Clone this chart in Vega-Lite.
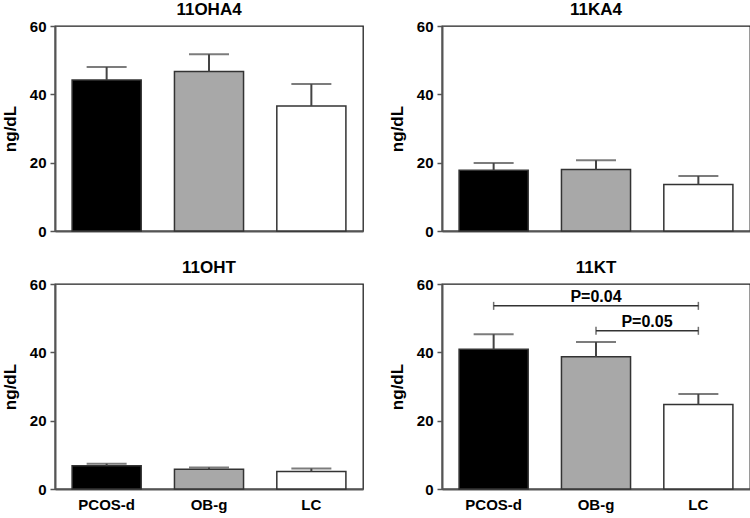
{
  "$schema": "https://vega.github.io/schema/vega-lite/v6.json",
  "padding": {"left": 0, "top": 0, "right": 0, "bottom": 0},
  "background": "white",
  "datasets": {
    "bars": [
      {"panel": "11OHA4", "group": "PCOS-d", "mean": 44.2, "hi": 48.0},
      {"panel": "11OHA4", "group": "OB-g", "mean": 46.7, "hi": 51.7},
      {"panel": "11OHA4", "group": "LC", "mean": 36.6, "hi": 43.0},
      {"panel": "11KA4", "group": "PCOS-d", "mean": 17.8, "hi": 19.9},
      {"panel": "11KA4", "group": "OB-g", "mean": 18.0, "hi": 20.7},
      {"panel": "11KA4", "group": "LC", "mean": 13.6, "hi": 16.1},
      {"panel": "11OHT", "group": "PCOS-d", "mean": 6.8, "hi": 7.4},
      {"panel": "11OHT", "group": "OB-g", "mean": 5.8, "hi": 6.3},
      {"panel": "11OHT", "group": "LC", "mean": 5.1, "hi": 6.0},
      {"panel": "11KT", "group": "PCOS-d", "mean": 40.9, "hi": 45.3},
      {"panel": "11KT", "group": "OB-g", "mean": 38.7, "hi": 43.0},
      {"panel": "11KT", "group": "LC", "mean": 24.7, "hi": 27.8}
    ],
    "brackets": [
      {"from": "PCOS-d", "to": "LC", "y": 53.6, "label": "P=0.04", "at": "OB-g"},
      {"from": "OB-g", "to": "LC", "y": 46.3, "label": "P=0.05", "at": "OB-g"}
    ],
    "ends": [
      {"group": "PCOS-d", "y": 53.6},
      {"group": "LC", "y": 53.6},
      {"group": "OB-g", "y": 46.3},
      {"group": "LC", "y": 46.3}
    ]
  },
  "columns": 2,
  "spacing": {"row": 18, "column": 23},
  "concat": [
    {
      "title": "11OHA4",
      "width": 308, "height": 205,
      "data": {"name": "bars"},
      "transform": [{"filter": "datum.panel === '11OHA4'"}],
      "encoding": {
        "x": {"field": "group", "type": "nominal", "sort": ["PCOS-d", "OB-g", "LC"],
              "scale": {"domain": ["PCOS-d", "OB-g", "LC"], "paddingInner": 0.325, "paddingOuter": 0.167},
              "axis": {"labels": false, "ticks": false, "title": null}}
      },
      "layer": [
        {"mark": {"type": "bar", "stroke": "#333", "strokeWidth": 1.5},
         "encoding": {
           "y": {"field": "mean", "type": "quantitative", "scale": {"domain": [0, 60], "nice": false},
                 "axis": {"title": "ng/dL", "values": [0, 20, 40, 60]}},
           "color": {"field": "group", "type": "nominal", "scale": {"domain": ["PCOS-d", "OB-g", "LC"], "range": ["#000000", "#a8a8a8", "#ffffff"]}, "legend": null}
         }},
        {"mark": {"type": "rule", "color": "#444", "strokeWidth": 2},
         "encoding": {"y": {"field": "mean", "type": "quantitative"}, "y2": {"field": "hi"}}},
        {"mark": {"type": "tick", "color": "#444", "thickness": 2, "size": 40},
         "encoding": {"y": {"field": "hi", "type": "quantitative"}}}
      ]
    },
    {
      "title": "11KA4",
      "width": 308, "height": 205,
      "data": {"name": "bars"},
      "transform": [{"filter": "datum.panel === '11KA4'"}],
      "encoding": {
        "x": {"field": "group", "type": "nominal", "sort": ["PCOS-d", "OB-g", "LC"],
              "scale": {"domain": ["PCOS-d", "OB-g", "LC"], "paddingInner": 0.325, "paddingOuter": 0.167},
              "axis": {"labels": false, "ticks": false, "title": null}}
      },
      "layer": [
        {"mark": {"type": "bar", "stroke": "#333", "strokeWidth": 1.5},
         "encoding": {
           "y": {"field": "mean", "type": "quantitative", "scale": {"domain": [0, 60], "nice": false},
                 "axis": {"title": "ng/dL", "values": [0, 20, 40, 60]}},
           "color": {"field": "group", "type": "nominal", "scale": {"domain": ["PCOS-d", "OB-g", "LC"], "range": ["#000000", "#a8a8a8", "#ffffff"]}, "legend": null}
         }},
        {"mark": {"type": "rule", "color": "#444", "strokeWidth": 2},
         "encoding": {"y": {"field": "mean", "type": "quantitative"}, "y2": {"field": "hi"}}},
        {"mark": {"type": "tick", "color": "#444", "thickness": 2, "size": 40},
         "encoding": {"y": {"field": "hi", "type": "quantitative"}}}
      ]
    },
    {
      "title": "11OHT",
      "width": 308, "height": 205,
      "data": {"name": "bars"},
      "transform": [{"filter": "datum.panel === '11OHT'"}],
      "encoding": {
        "x": {"field": "group", "type": "nominal", "sort": ["PCOS-d", "OB-g", "LC"],
              "scale": {"domain": ["PCOS-d", "OB-g", "LC"], "paddingInner": 0.325, "paddingOuter": 0.167},
              "axis": {"ticks": false, "title": null, "labelAngle": 0, "labelPadding": 8}}
      },
      "layer": [
        {"mark": {"type": "bar", "stroke": "#333", "strokeWidth": 1.5},
         "encoding": {
           "y": {"field": "mean", "type": "quantitative", "scale": {"domain": [0, 60], "nice": false},
                 "axis": {"title": "ng/dL", "values": [0, 20, 40, 60]}},
           "color": {"field": "group", "type": "nominal", "scale": {"domain": ["PCOS-d", "OB-g", "LC"], "range": ["#000000", "#a8a8a8", "#ffffff"]}, "legend": null}
         }},
        {"mark": {"type": "rule", "color": "#444", "strokeWidth": 2},
         "encoding": {"y": {"field": "mean", "type": "quantitative"}, "y2": {"field": "hi"}}},
        {"mark": {"type": "tick", "color": "#444", "thickness": 2, "size": 40},
         "encoding": {"y": {"field": "hi", "type": "quantitative"}}}
      ]
    },
    {
      "title": "11KT",
      "width": 308, "height": 205,
      "encoding": {
        "x": {"field": "group", "type": "nominal", "sort": ["PCOS-d", "OB-g", "LC"],
              "scale": {"domain": ["PCOS-d", "OB-g", "LC"], "paddingInner": 0.325, "paddingOuter": 0.167},
              "axis": {"ticks": false, "title": null, "labelAngle": 0, "labelPadding": 8}}
      },
      "layer": [
        {"data": {"name": "bars"},
         "transform": [{"filter": "datum.panel === '11KT'"}],
         "mark": {"type": "bar", "stroke": "#333", "strokeWidth": 1.5},
         "encoding": {
           "y": {"field": "mean", "type": "quantitative", "scale": {"domain": [0, 60], "nice": false},
                 "axis": {"title": "ng/dL", "values": [0, 20, 40, 60]}},
           "color": {"field": "group", "type": "nominal", "scale": {"domain": ["PCOS-d", "OB-g", "LC"], "range": ["#000000", "#a8a8a8", "#ffffff"]}, "legend": null}
         }},
        {"data": {"name": "bars"},
         "transform": [{"filter": "datum.panel === '11KT'"}],
         "mark": {"type": "rule", "color": "#444", "strokeWidth": 2},
         "encoding": {"y": {"field": "mean", "type": "quantitative"}, "y2": {"field": "hi"}}},
        {"data": {"name": "bars"},
         "transform": [{"filter": "datum.panel === '11KT'"}],
         "mark": {"type": "tick", "color": "#444", "thickness": 2, "size": 40},
         "encoding": {"y": {"field": "hi", "type": "quantitative"}}},
        {"data": {"name": "brackets"},
         "mark": {"type": "rule", "color": "#333", "strokeWidth": 1.5},
         "encoding": {"x": {"field": "from", "type": "nominal"}, "x2": {"field": "to"}, "y": {"field": "y", "type": "quantitative"}}},
        {"data": {"name": "ends"},
         "mark": {"type": "tick", "orient": "vertical", "color": "#333", "thickness": 1.5, "size": 8},
         "encoding": {"x": {"field": "group", "type": "nominal"}, "y": {"field": "y", "type": "quantitative"}}},
        {"data": {"name": "brackets"},
         "transform": [{"filter": "datum.label === 'P=0.04'"}],
         "mark": {"type": "text", "fontSize": 16, "fontWeight": "bold", "baseline": "alphabetic", "dy": -4, "color": "#000"},
         "encoding": {"x": {"field": "at", "type": "nominal"}, "y": {"field": "y", "type": "quantitative"}, "text": {"field": "label"}}},
        {"data": {"name": "brackets"},
         "transform": [{"filter": "datum.label === 'P=0.05'"}],
         "mark": {"type": "text", "fontSize": 16, "fontWeight": "bold", "baseline": "alphabetic", "dy": -4, "dx": 51, "color": "#000"},
         "encoding": {"x": {"field": "at", "type": "nominal"}, "y": {"field": "y", "type": "quantitative"}, "text": {"field": "label"}}}
      ]
    }
  ],
  "config": {
    "font": "Liberation Sans",
    "view": {"stroke": "#222", "strokeWidth": 1.3},
    "axis": {
      "grid": false,
      "domainColor": "#555", "domainWidth": 2,
      "tickColor": "#555", "tickWidth": 1.5, "tickSize": 5,
      "labelFont": "Liberation Sans", "labelFontSize": 15, "labelFontWeight": "bold", "labelColor": "#000", "labelPadding": 4,
      "titleFont": "Liberation Sans", "titleFontSize": 17, "titleFontWeight": "bold", "titleColor": "#000", "titlePadding": 10
    },
    "title": {"font": "Liberation Sans", "fontSize": 17, "fontWeight": "bold", "color": "#000", "offset": 0.1}
  }
}
